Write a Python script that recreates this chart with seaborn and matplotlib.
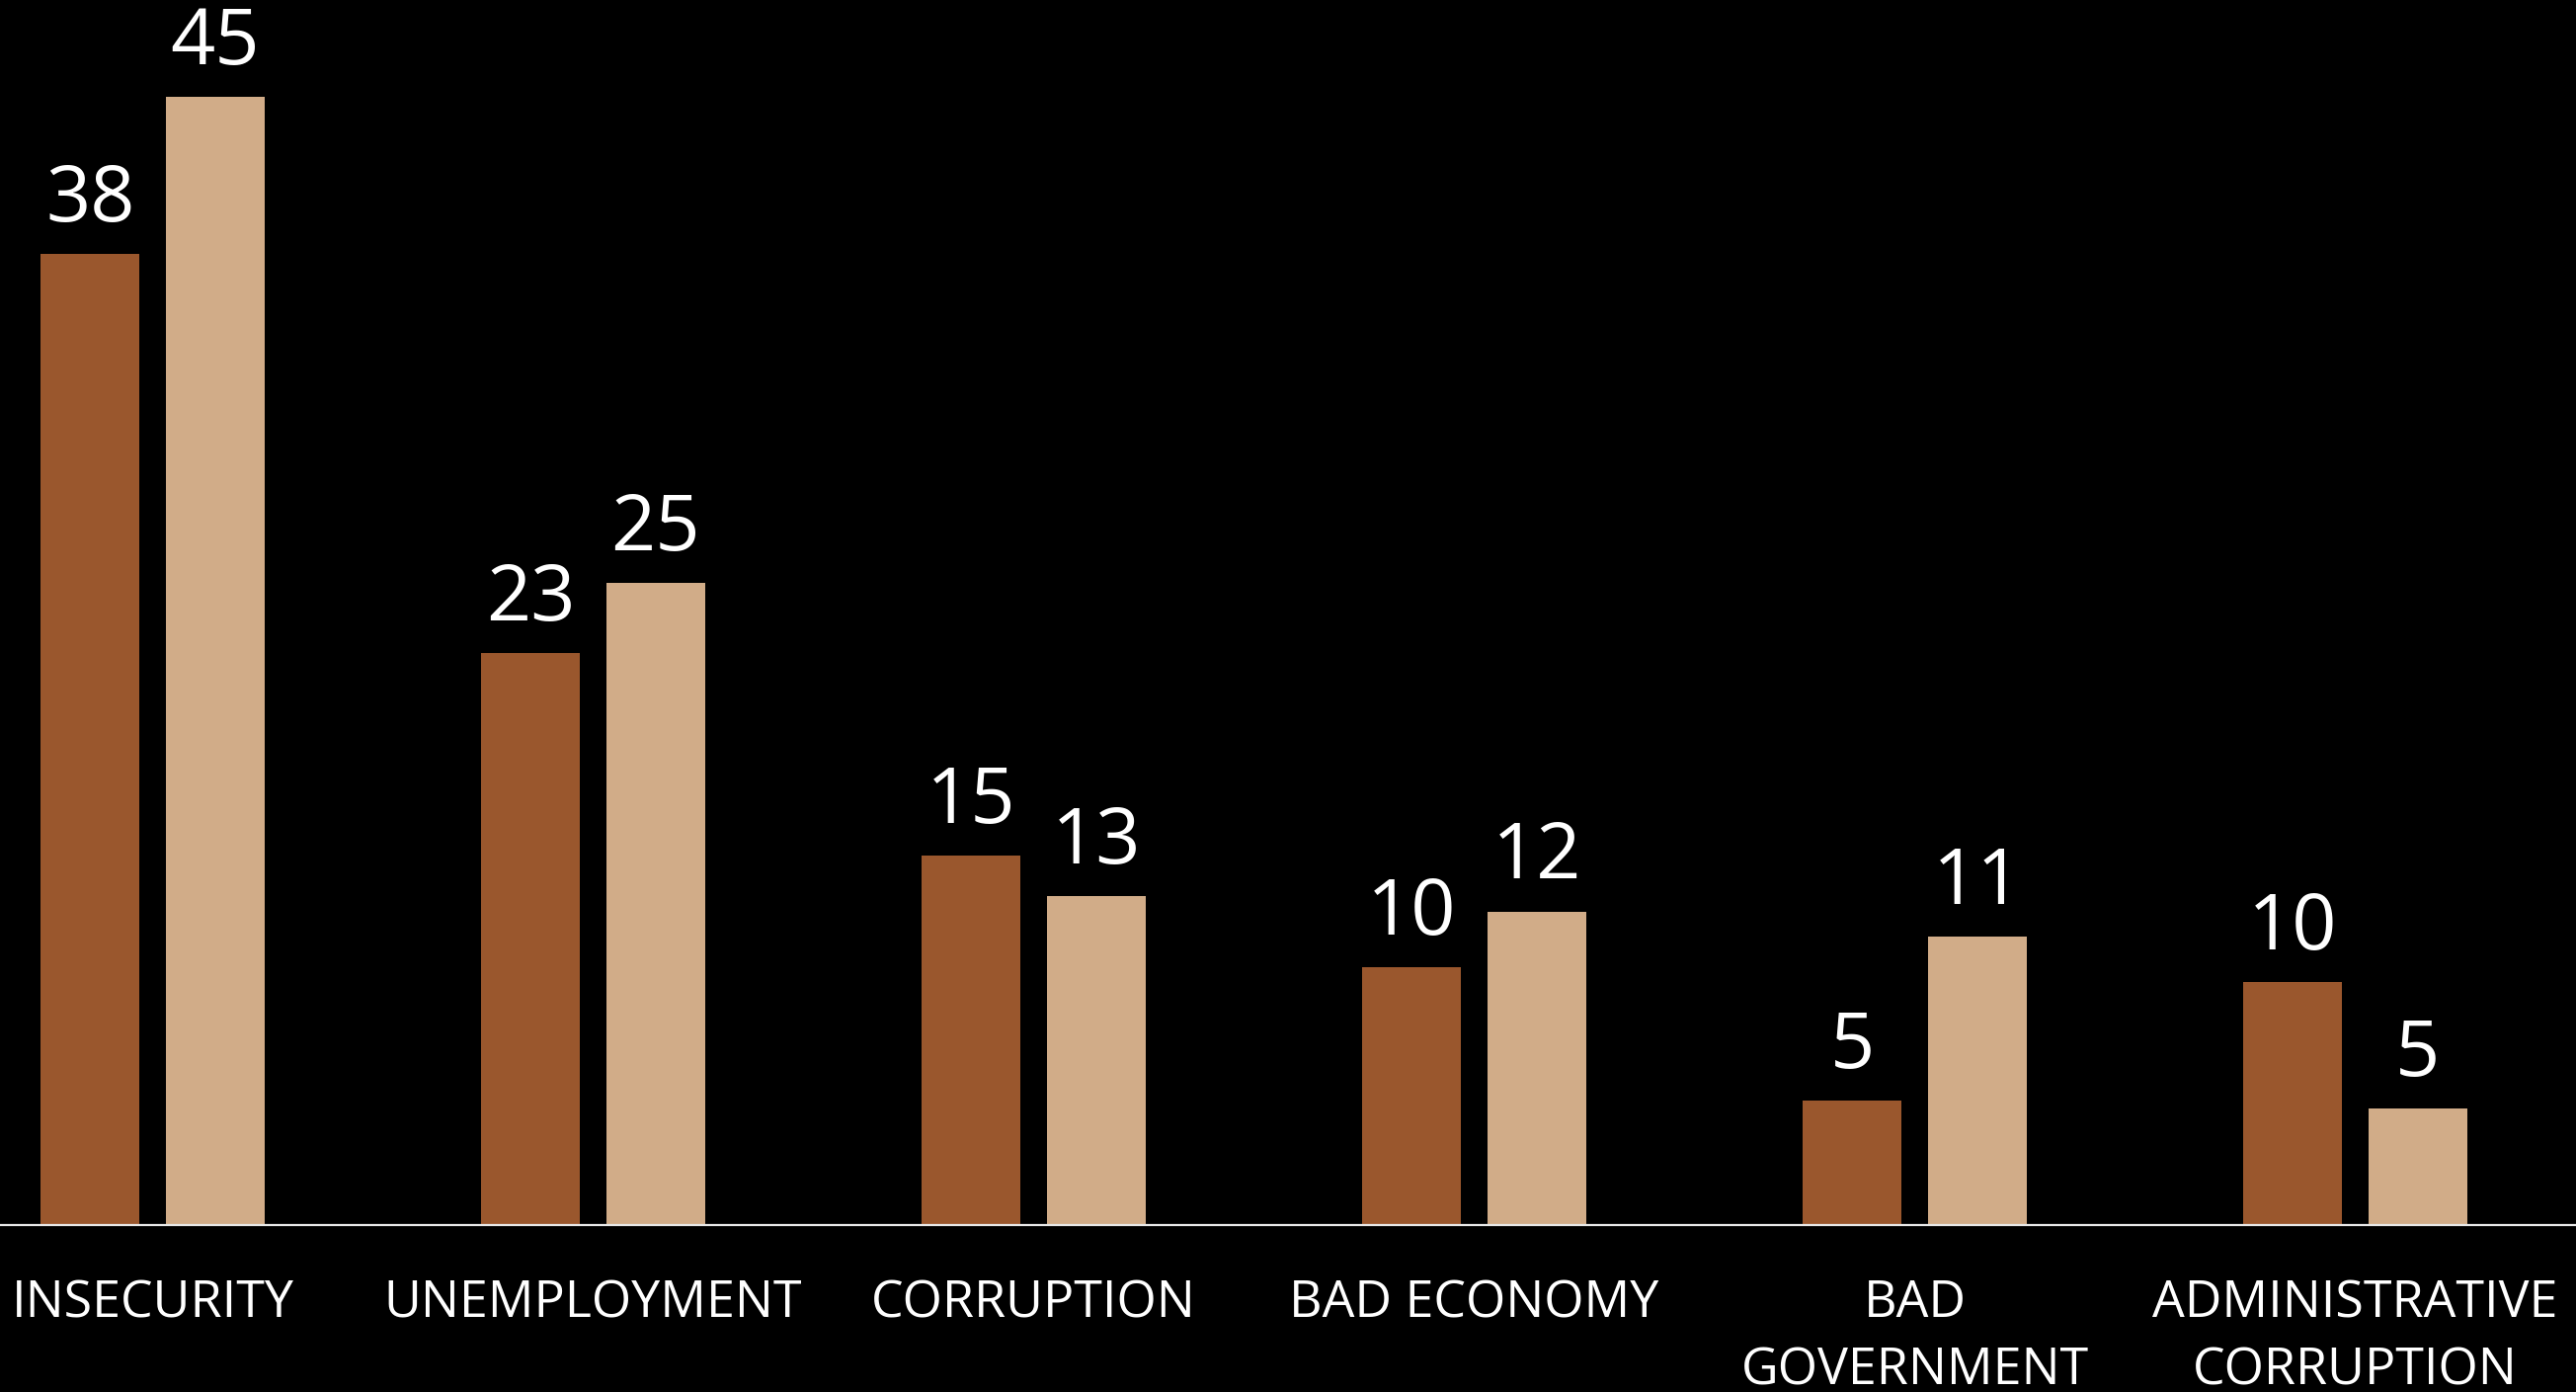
import pandas as pd
import matplotlib
matplotlib.use("Agg")
import matplotlib.pyplot as plt
import seaborn as sns

categories = ["INSECURITY", "UNEMPLOYMENT", "CORRUPTION", "BAD ECONOMY",
              "BAD\nGOVERNMENT", "ADMINISTRATIVE\nCORRUPTION"]
series = ["Survey 1", "Survey 2"]
vals_1 = [38.4, 22.6, 14.6, 10.2, 4.9, 9.6]
vals_2 = [44.6, 25.4, 13.0, 12.4, 11.4, 4.6]
labels_1 = ["38", "23", "15", "10", "5", "10"]
labels_2 = ["45", "25", "13", "12", "11", "5"]
colors = ["#9A572D", "#D1AC88"]

df = pd.DataFrame({
    "category": categories * 2,
    "series": [series[0]] * 6 + [series[1]] * 6,
    "value": vals_1 + vals_2,
})

sns.set_style("white")
plt.rcParams["font.family"] = ["Open Sans", "DejaVu Sans"]

fig = plt.figure(figsize=(13.04, 7.045), dpi=200, facecolor="black")
ax = fig.add_axes([0, 0.12, 1, 0.88])
ax.set_facecolor("black")

sns.barplot(data=df, x="category", y="value", hue="series", order=categories,
            hue_order=series, palette=colors, width=0.567, gap=0.21,
            saturation=1, legend=False, ax=ax, edgecolor="none")

for cont, labs in zip(ax.containers, [labels_1, labels_2]):
    for bar, lab in zip(cont, labs):
        ax.annotate(lab, (bar.get_x() + bar.get_width() / 2, bar.get_height()),
                    xytext=(0, 11.9), textcoords="offset points",
                    ha="center", va="baseline", color="white", fontsize=28.5)

ax.set_xlim(-0.3464, 5.501)
ax.set_ylim(0, 48.44)
ax.set_xlabel("")
ax.set_ylabel("")
ax.set_yticks([])
ax.tick_params(axis="x", length=0, pad=19.6, colors="white", labelsize=18.7)
for t in ax.get_xticklabels():
    t.set_linespacing(1.45)
    t.set_multialignment("center")

for s in ["top", "left", "right"]:
    ax.spines[s].set_visible(False)
ax.spines["bottom"].set_color("#e8e8e8")
ax.spines["bottom"].set_linewidth(0.8)

fig.savefig("out.png", dpi=200, facecolor="black")
